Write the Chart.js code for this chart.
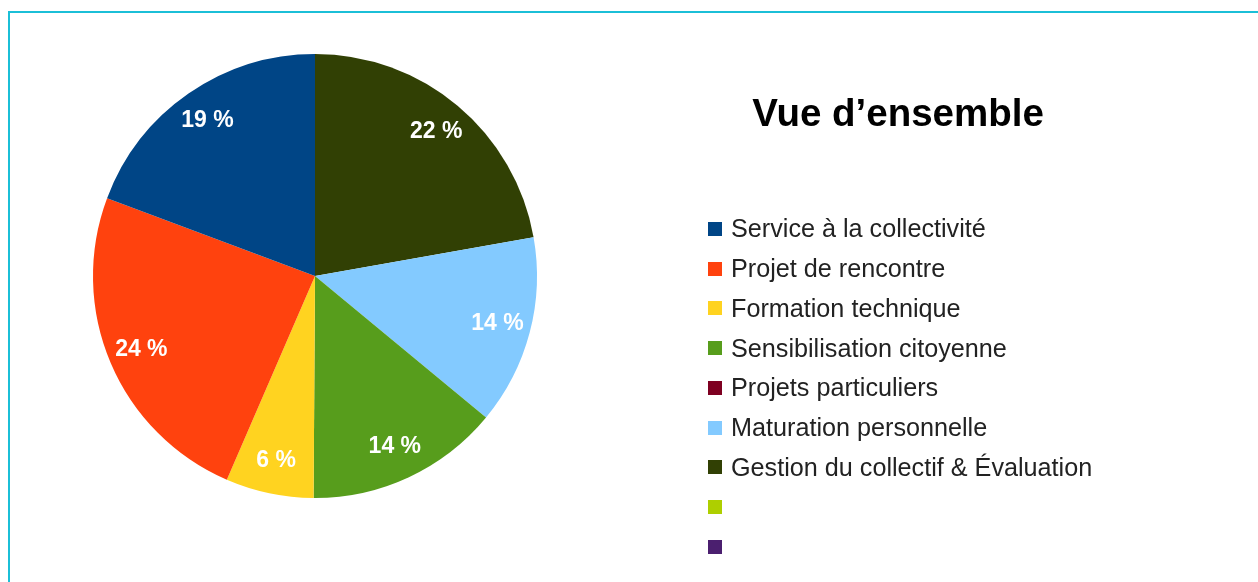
<!DOCTYPE html>
<html lang="fr">
<head>
<meta charset="utf-8">
<title>Vue d’ensemble</title>
<script src="https://cdn.jsdelivr.net/npm/chart.js@4/dist/chart.umd.min.js"></script>
<style>
  html, body { margin: 0; padding: 0; background: #fff; overflow: hidden; }
  body { width: 1258px; height: 582px; position: relative; font-family: "Liberation Sans", Arial, sans-serif; }
  #frame { position: absolute; left: 8px; top: 11px; width: 1300px; height: 700px; border: 2px solid #1bbfd7; box-sizing: border-box; }
  #chart { position: absolute; left: 0; top: 0; }
  #title { position: absolute; left: 698px; width: 400px; top: 94px; text-align: center;
           font-weight: bold; font-size: 38.5px; line-height: 38.5px; color: #000; }
  #legend { position: absolute; left: 708px; top: 209px; margin: 0; padding: 0; list-style: none; }
  #legend li { height: 39.75px; display: flex; align-items: center; font-size: 25.2px; color: #222; white-space: nowrap; }
  #legend li span.box { width: 14px; height: 14px; margin-right: 9px; flex: none; }
</style>
</head>
<body>
<div id="frame"></div>
<canvas id="chart" width="1258" height="582"></canvas>
<div id="title">Vue d’ensemble</div>
<ul id="legend"></ul>
<script>
// categories in legend order
const categories = [
  'Service à la collectivité',
  'Projet de rencontre',
  'Formation technique',
  'Sensibilisation citoyenne',
  'Projets particuliers',
  'Maturation personnelle',
  'Gestion du collectif & Évaluation',
  '',
  ''
];
// share of time, in %
const values = [19.3, 24.2, 6.4, 14.1, 0, 13.8, 22.2, 0, 0];
const colors = ['#004586', '#ff420e', '#ffd320', '#579d1c', '#7e0021', '#83caff', '#314004', '#aecf00', '#4b1f6f'];

// slices run counter-clockwise from the top, Chart.js goes clockwise -> feed it reversed
const rev = arr => arr.slice().reverse();

// percentage labels inside each slice
const sliceLabels = {
  id: 'sliceLabels',
  afterDatasetsDraw(chart) {
    const ctx = chart.ctx;
    const ds = chart.data.datasets[0];
    const total = ds.data.reduce((a, b) => a + b, 0);
    chart.getDatasetMeta(0).data.forEach((arc, i) => {
      const v = ds.data[i];
      if (!v) return;
      const p = arc.getProps(['x', 'y', 'startAngle', 'endAngle', 'outerRadius'], true);
      const mid = (p.startAngle + p.endAngle) / 2;
      const r = p.outerRadius * 0.85;
      ctx.save();
      ctx.fillStyle = '#fff';
      ctx.font = 'bold 23px "Liberation Sans", Arial, sans-serif';
      ctx.textAlign = 'center';
      ctx.textBaseline = 'middle';
      ctx.fillText(Math.round(v / total * 100) + ' %', p.x + Math.cos(mid) * r, p.y + Math.sin(mid) * r);
      ctx.restore();
    });
  }
};

// html legend built from the chart's own legend items
const htmlLegend = {
  id: 'htmlLegend',
  afterUpdate(chart) {
    const ul = document.getElementById('legend');
    ul.innerHTML = '';
    const items = chart.options.plugins.legend.labels.generateLabels(chart).reverse();
    items.forEach(item => {
      const li = document.createElement('li');
      const box = document.createElement('span');
      box.className = 'box';
      box.style.background = item.fillStyle;
      li.appendChild(box);
      li.appendChild(document.createTextNode(item.text));
      ul.appendChild(li);
    });
  }
};

new Chart(document.getElementById('chart'), {
  type: 'pie',
  data: {
    labels: rev(categories),
    datasets: [{
      data: rev(values),
      backgroundColor: rev(colors),
      borderWidth: 0
    }]
  },
  options: {
    responsive: false,
    animation: false,
    layout: { padding: { left: 90, top: 54, right: 718, bottom: 84 } },
    plugins: {
      legend: { display: false },
      tooltip: { enabled: false }
    }
  },
  plugins: [sliceLabels, htmlLegend]
});
</script>
</body>
</html>
